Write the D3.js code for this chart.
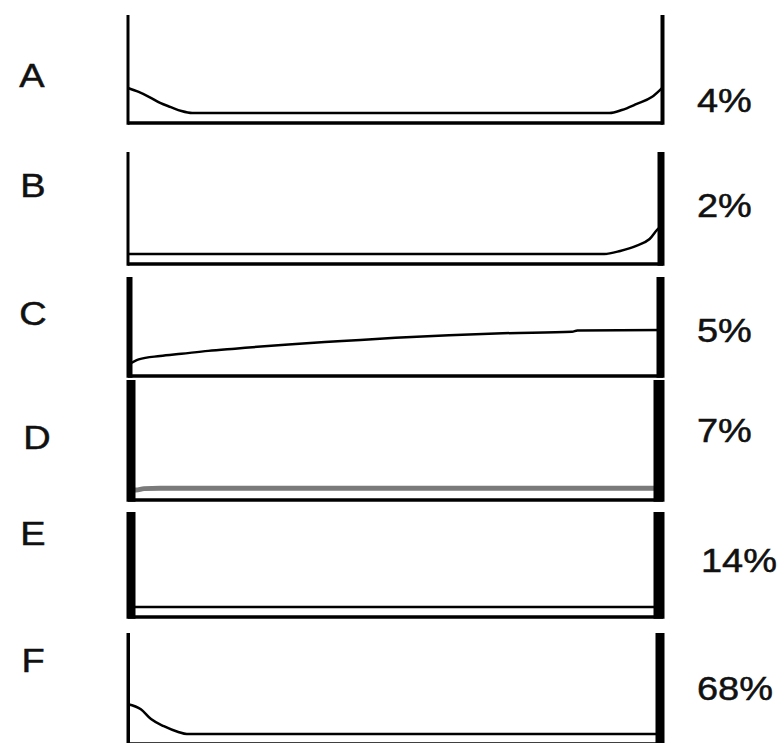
<!DOCTYPE html>
<html>
<head>
<meta charset="utf-8">
<script src="https://cdn.jsdelivr.net/npm/d3@7"></script>
<style>
  body { margin: 0; background: #fff; }
  text { font-family: "Liberation Sans", Arial, sans-serif; fill: #111; stroke: #111; stroke-width: 0.5px; }
</style>
</head>
<body>
<div id="chart"></div>
<script>
'use strict'

// categories and their share of the total
var categories = ['A', 'B', 'C', 'D', 'E', 'F'];
var shares = [4, 2, 5, 7, 14, 68];

// mass piled up at the two ends (drawn as the thickness of the end bars)
var leftMass = [0.05, 0.05, 0.35, 0.65, 0.65, 0.1];
var rightMass = [0.15, 0.45, 0.55, 0.85, 0.85, 0.65];

// density shapes, [position 0..1, density]
var densityA = [[0, 1.02], [0.02, 0.86], [0.04, 0.65], [0.06, 0.41], [0.08, 0.24], [0.1, 0.08], [0.12, 0],
  [0.9, 0], [0.923, 0.12], [0.951, 0.37], [0.979, 0.65], [1, 1.06]];
var densityB = [[0, 0], [0.89, 0], [0.92, 0.12], [0.95, 0.32], [0.975, 0.59], [0.993, 1.03], [1, 1.1]];
var densityC = [[0, 0.05], [0.02, 0.3], [0.06, 0.45], [0.1, 0.55], [0.15, 0.68], [0.2, 0.78], [0.3, 0.97],
  [0.4, 1.12], [0.5, 1.27], [0.6, 1.38], [0.7, 1.47], [0.83, 1.54], [0.84, 1.6], [1, 1.62]];
var densityD = [[0, 0], [0.015, 0], [0.03, 0.05], [0.06, 0.06], [1, 0.06]];
var densityE = [[0, 0], [1, 0]];
var densityF = [[0, 1.18], [0.024, 0.98], [0.043, 0.59], [0.067, 0.31], [0.094, 0.08], [0.11, 0], [1, 0]];
var densities = [densityA, densityB, densityC, densityD, densityE, densityF];

// layout of each panel (top of the end bars, axis line) and its labels
var panelTop = [15, 152, 277, 380, 512, 633];
var panelBase = [123, 264, 376, 500, 617, 744];
var letterX = [32, 33, 33, 37, 33, 33];
var letterY = [75, 185, 313, 437, 533, 660];
var pctX = [697, 697, 697, 697, 701, 697];
var pctY = [100, 205, 330, 430, 560, 688];

var width = 782, height = 743;
var floorGap = 10;
var textStretch = 1.15;

var svg = d3.select('#chart').append('svg')
  .attr('width', width)
  .attr('height', height);

var xScale = d3.scaleLinear()
  .domain([0, 1])
  .range([128, 663]);

var barWidth = d3.scaleLinear()
  .domain([0, 1])
  .range([2.5, 12.5]);

var line = d3.line()
  .curve(d3.curveMonotoneX);

categories.forEach(function(cat, i) {
  var g = svg.append('g').attr('class', 'panel');
  var base = panelBase[i];
  var yScale = d3.scaleLinear()
    .domain([0, 4])
    .range([base - floorGap, panelTop[i]]);

  // density curve
  g.append('path')
    .attr('d', line.x(function(d) { return xScale(d[0]); })
                   .y(function(d) { return yScale(d[1]); })(densities[i]))
    .style('fill', 'none')
    .style('stroke', cat == 'D' ? '#7a7a7a' : '#000')
    .style('stroke-width', cat == 'D' ? 5 : 2.5)
    .style('stroke-linejoin', 'round');

  // axis line
  g.append('line')
    .attr('x1', xScale(0)).attr('x2', xScale(1))
    .attr('y1', base).attr('y2', base)
    .style('stroke', '#000')
    .style('stroke-width', 3.5);

  // end bars
  var lw = barWidth(leftMass[i]);
  var rw = barWidth(rightMass[i]);
  g.append('line')
    .attr('x1', xScale(0) - 1.5 + lw / 2).attr('x2', xScale(0) - 1.5 + lw / 2)
    .attr('y1', panelTop[i]).attr('y2', base + 1.75)
    .style('stroke', '#000')
    .style('stroke-width', lw);
  g.append('line')
    .attr('x1', xScale(1) + 1.5 - rw / 2).attr('x2', xScale(1) + 1.5 - rw / 2)
    .attr('y1', panelTop[i]).attr('y2', base + 1.75)
    .style('stroke', '#000')
    .style('stroke-width', rw);

  // labels
  g.append('text')
    .attr('transform', 'translate(' + letterX[i] + ',' + letterY[i] + ') scale(' + textStretch + ',1)')
    .attr('dy', '0.35em')
    .style('text-anchor', 'middle')
    .style('font-size', '33px')
    .text(cat);

  g.append('text')
    .attr('transform', 'translate(' + pctX[i] + ',' + pctY[i] + ') scale(' + textStretch + ',1)')
    .attr('dy', '0.35em')
    .style('font-size', '33px')
    .text(shares[i] + '%');
});
</script>
</body>
</html>
